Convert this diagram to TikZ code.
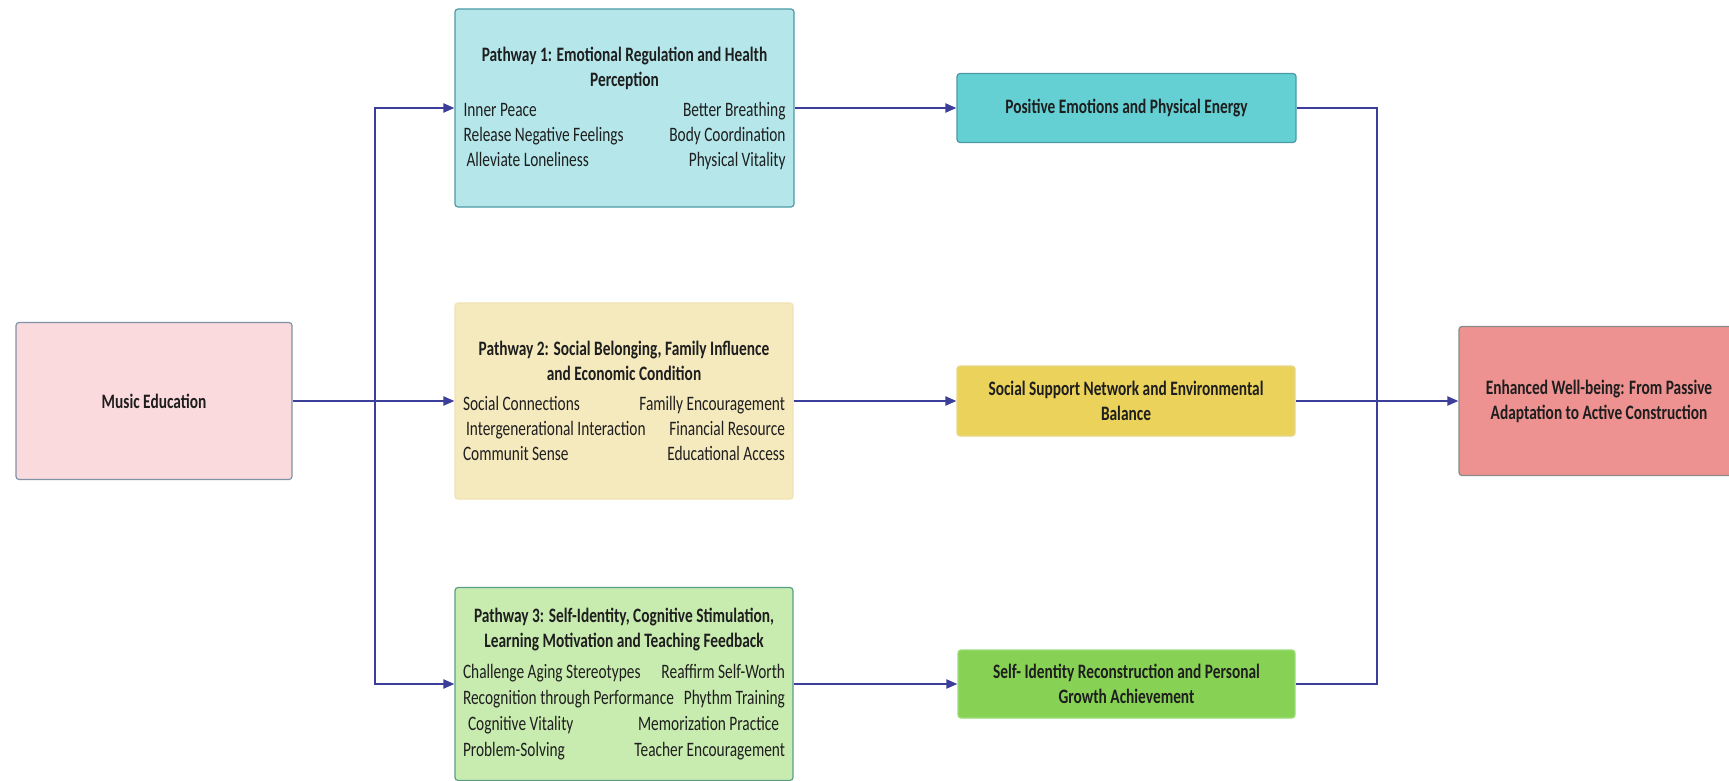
\documentclass[tikz,border=0pt]{standalone}
\usepackage{fontspec}
\setmainfont{Carlito}[FakeStretch=0.75]
\usetikzlibrary{arrows.meta}
\definecolor{linec}{HTML}{3C3F9A}
\definecolor{mefill}{HTML}{FADADD}
\definecolor{mebord}{HTML}{7F93A6}
\definecolor{pafill}{HTML}{B4E6EA}
\definecolor{pabord}{HTML}{4F9AA6}
\definecolor{pbfill}{HTML}{F5E9BE}
\definecolor{pbbord}{HTML}{F0E2B2}
\definecolor{pcfill}{HTML}{C8ECB0}
\definecolor{pcbord}{HTML}{5A9E8A}
\definecolor{oafill}{HTML}{64D0D4}
\definecolor{oabord}{HTML}{4A9AA8}
\definecolor{obfill}{HTML}{EBD25A}
\definecolor{obbord}{HTML}{E6D88A}
\definecolor{ocfill}{HTML}{87D255}
\definecolor{ocbord}{HTML}{9ADC78}
\definecolor{efill}{HTML}{EE9191}
\definecolor{ebord}{HTML}{8A8A8A}
\definecolor{txt}{HTML}{1E1E1E}
\newcommand{\pwtext}[3]{\begin{minipage}{322pt}\centering\bfseries #1\par\vspace{5pt}\mdseries
  \baselineskip=#2\relax #3\end{minipage}}
\newcommand{\itrow}[2]{\hbox to 322pt{#1\hfill #2}\par}
\begin{document}
\begin{tikzpicture}[x=1pt,y=-1pt,
  box/.style={rounded corners=3pt, line width=1.2pt, align=center, inner sep=0pt,
    text=txt, font=\fontsize{20.5}{25}\selectfont},
  pbox/.style={rounded corners=3pt, line width=1.2pt, inner sep=0pt,
    text=txt, font=\fontsize{20.5}{25}\selectfont},
  conn/.style={draw=linec, line width=2pt},
  arr/.style={conn, -{Triangle[length=11pt,width=9pt]}}]
\clip (0,0) rectangle (1729,781);
\fill[white] (0,0) rectangle (1729,781);

\node[box, fill=mefill, draw=mebord, minimum width=276pt, minimum height=157pt] (me) at (154,401) {\bfseries Music Education};

\node[pbox, fill=pafill, draw=pabord, minimum width=339pt, minimum height=198pt] (p1) at (624.5,108) {\pwtext{Pathway 1: Emotional Regulation and Health\\Perception}{25pt}{%
  \itrow{Inner Peace}{Better Breathing}%
  \itrow{Release Negative Feelings}{Body Coordination}%
  \itrow{\hspace{3pt}Alleviate Loneliness}{Physical Vitality}}};

\node[pbox, fill=pbfill, draw=pbbord, minimum width=338pt, minimum height=196pt] (p2) at (624,401) {\pwtext{Pathway 2: Social Belonging, Family Influence\\and Economic Condition}{25pt}{%
  \itrow{Social Connections}{Familly Encouragement}%
  \itrow{\hspace{3pt}Intergenerational Interaction}{Financial Resource}%
  \itrow{Communit Sense}{Educational Access}}};

\node[pbox, fill=pcfill, draw=pcbord, minimum width=338pt, minimum height=193pt] (p3) at (624,684) {\pwtext{Pathway 3: Self-Identity, Cognitive Stimulation,\\Learning Motivation and Teaching Feedback}{26pt}{%
  \itrow{Challenge Aging Stereotypes}{Reaffirm Self-Worth}%
  \itrow{Recognition through Performance}{Phythm Training}%
  \itrow{\hspace{5pt}Cognitive Vitality}{Memorization Practice\hspace{6pt}}%
  \itrow{Problem-Solving}{Teacher Encouragement}}};

\node[box, fill=oafill, draw=oabord, minimum width=339pt, minimum height=69pt] (o1) at (1126.5,108) {\bfseries Positive Emotions and Physical Energy};
\node[box, fill=obfill, draw=obbord, minimum width=338pt, minimum height=70pt] (o2) at (1126,401) {\bfseries Social Support Network and Environmental\\\bfseries Balance};
\node[box, fill=ocfill, draw=ocbord, minimum width=337pt, minimum height=68pt] (o3) at (1126.5,684) {\bfseries Self- Identity Reconstruction and Personal\\\bfseries Growth Achievement};

\node[box, fill=efill, draw=ebord, minimum width=280pt, minimum height=149pt] (e) at (1599,401) {\bfseries Enhanced Well-being: From Passive\\\bfseries Adaptation to Active Construction};

\coordinate (split) at (375,401);
\coordinate (merge) at (1377,401);

\draw[conn] (me.east) -- (split);
\draw[arr] (split) |- (p1.west);
\draw[arr] (split) -- (p2.west);
\draw[arr] (split) |- (p3.west);

\draw[arr] (p1.east) -- (o1.west);
\draw[arr] (p2.east) -- (o2.west);
\draw[arr] (p3.east) -- (o3.west);

\draw[conn] (o1.east) -| (merge);
\draw[conn] (o3.east) -| (merge);
\draw[arr] (o2.east) -- (e.west);
\end{tikzpicture}
\end{document}
